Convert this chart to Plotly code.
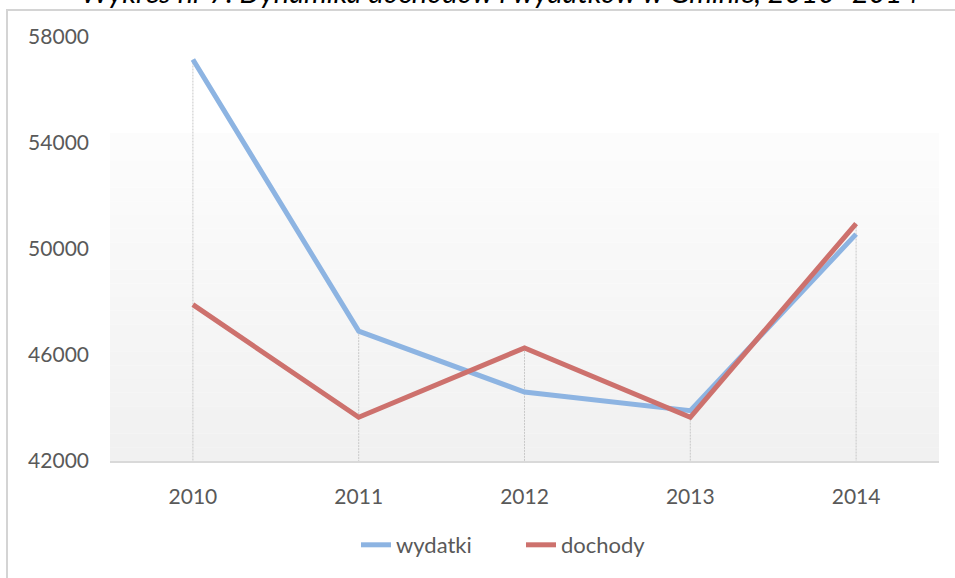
import plotly.graph_objects as go

years = ["2010", "2011", "2012", "2013", "2014"]
wydatki = [57150, 46900, 44600, 43900, 50560]
dochody = [47900, 43650, 46270, 43650, 50960]
y_ticks = [42000, 46000, 50000, 54000, 58000]
title_text = "Wykres nr 7. Dynamika dochodów i wydatków w Gminie, 2010–2014"

BLUE = "#8DB4E2"
RED = "#CD716D"
FONT = "Lato, 'Open Sans', sans-serif"

fig = go.Figure()

# gradient plot-area background (decoration)
n = 24
top_p, bot_p = 0.7736, 0.0
for i in range(n):
    t = i / (n - 1)
    c = int(round(252 - t * (252 - 241)))
    y0 = top_p - (top_p - bot_p) * i / n
    y1 = top_p - (top_p - bot_p) * (i + 1) / n
    fig.add_shape(type="rect", xref="paper", yref="paper", x0=0, x1=1, y0=y1, y1=y0,
                  fillcolor=f"rgb({c},{c},{c})", line_width=0, layer="below")

# drop lines
dx, dy = [], []
for yr, a, b in zip(years, wydatki, dochody):
    dx += [yr, yr, None]
    dy += [max(a, b), y_ticks[0], None]
fig.add_trace(go.Scatter(x=dx, y=dy, mode="lines", showlegend=False, hoverinfo="skip",
                         line=dict(color="#C8C8C8", width=1, dash="2px,1px")))

fig.add_trace(go.Scatter(x=years, y=wydatki, name="wydatki", mode="lines",
                         line=dict(color=BLUE, width=5)))
fig.add_trace(go.Scatter(x=years, y=dochody, name="dochody", mode="lines",
                         line=dict(color=RED, width=5)))

# chart frame (decoration)
fx = (7 - 110) / 829
fy = (461 - 10) / 424
fig.add_shape(type="path", xref="paper", yref="paper", layer="above",
              path=f"M {fx},-0.35 L {fx},{fy} L 1.05,{fy}",
              line=dict(color="#D4D4D4", width=2))

fig.add_annotation(text=f"<i>{title_text}</i>", xref="paper", yref="paper",
                   x=(500 - 110) / 829, y=(461 + 9) / 424, xanchor="center", yanchor="middle",
                   showarrow=False, font=dict(family=FONT, size=29, color="#000000"))

fig.update_layout(
    width=955, height=578,
    margin=dict(l=110, r=16, t=37, b=117, autoexpand=False),
    paper_bgcolor="white", plot_bgcolor="rgba(0,0,0,0)",
    font=dict(family=FONT, color="#595959", size=21),
    showlegend=True,
    legend=dict(orientation="h", x=(356 - 110) / 829, xanchor="left",
                y=(461 - 545) / 424, yanchor="middle", entrywidth=120, entrywidthmode="pixels",
                font=dict(size=22, color="#595959"), tracegroupgap=0,
                bgcolor="rgba(0,0,0,0)"),
    xaxis=dict(type="category", range=[-0.5, 4.5], showgrid=False, zeroline=False,
               showline=True, linecolor="#D9D9D9", linewidth=2, ticks="",
               ticklabelstandoff=16, tickfont=dict(size=21, color="#595959")),
    yaxis=dict(range=[42000, 58000], tickvals=y_ticks, tickformat="d", showgrid=False,
               zeroline=False, showline=False, ticks="", ticklabelstandoff=20,
               tickfont=dict(size=21, color="#595959")),
)

fig.write_html("out.html", config={"displayModeBar": False},
               post_script="document.body.style.margin='0';document.body.style.overflow='hidden';")
